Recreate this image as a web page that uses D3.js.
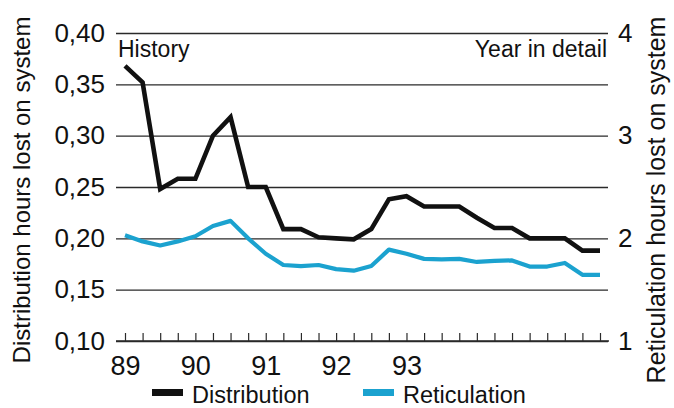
<!DOCTYPE html>
<html><head><meta charset="utf-8">
<script src="https://cdn.jsdelivr.net/npm/d3@7"></script>
<style>
html,body{margin:0;padding:0;background:#fff;}
svg{display:block;font-family:"Liberation Sans",Arial,Helvetica,sans-serif;}
</style></head>
<body>
<svg id="chart" width="674" height="408"></svg>
<script>
// ---- data ----
const periods = [
  "89Q1","89Q2","89Q3","89Q4","90Q1","90Q2","90Q3","90Q4",
  "91Q1","91Q2","91Q3","91Q4","92Q1","92Q2","92Q3","92Q4",
  "93-01","93-02","93-03","93-04","93-05","93-06","93-07","93-08","93-09","93-10","93-11","93-12"
];
const yearLabels = ["89","","","","90","","","","91","","","","92","","","","93","","","","","","","","","","",""];
// Distribution hours lost on system (left axis)
const distribution = [0.368,0.352,0.248,0.258,0.258,0.300,0.318,0.250,0.250,0.209,0.209,0.201,0.200,0.199,0.209,0.238,0.241,0.231,0.231,0.231,0.220,0.210,0.210,0.200,0.200,0.200,0.188,0.188];
// Reticulation hours lost on system (right axis)
const reticulation = [2.03,1.97,1.93,1.97,2.02,2.12,2.17,2.00,1.85,1.74,1.73,1.74,1.70,1.685,1.73,1.89,1.85,1.80,1.795,1.80,1.77,1.78,1.785,1.725,1.725,1.76,1.645,1.645];
const leftTicks = [0.10,0.15,0.20,0.25,0.30,0.35,0.40];
const rightTicks = [1,2,3,4];
const seriesNames = ["Distribution","Reticulation"];
const seriesColors = ["#111111","#1ba2cf"];

// ---- layout ----
const svg = d3.select("#chart");
const plotL = 116, plotR = 608, plotT = 33, plotB = 341;

const x = d3.scalePoint().domain(periods).range([125, 600]);
const yL = d3.scaleLinear().domain([0.10, 0.40]).range([plotB, plotT]);
const yR = d3.scaleLinear().domain([1, 4]).range([plotB, plotT]);

// gridlines + left labels
const gl = svg.append("g").attr("transform", `translate(${plotL},0)`)
  .call(d3.axisLeft(yL).tickValues(leftTicks)
    .tickFormat(d => d3.format(".2f")(d).replace(".", ","))
    .tickSizeInner(-(plotR - plotL)).tickSizeOuter(0).tickPadding(11));
gl.select(".domain").remove();
gl.selectAll(".tick line").attr("stroke", "#2a2a2a").attr("stroke-width", 1.3);
gl.selectAll(".tick text").attr("fill", "#111").style("font-size", "26px")
  .style("font-family", "Liberation Sans, Arial, sans-serif");

// right labels
const gr = svg.append("g").attr("transform", `translate(${plotR},0)`)
  .call(d3.axisRight(yR).tickValues(rightTicks).tickFormat(d3.format("d"))
    .tickSize(0).tickPadding(10));
gr.select(".domain").remove();
gr.selectAll(".tick text").attr("fill", "#111").style("font-size", "26px")
  .style("font-family", "Liberation Sans, Arial, sans-serif");

// bottom axis
const gb = svg.append("g").attr("transform", `translate(0,${plotB})`)
  .call(d3.axisBottom(x).tickFormat((d, i) => yearLabels[i])
    .tickSizeInner(-8).tickSizeOuter(0).tickPadding(15));
gb.select(".domain").attr("d", `M${plotL},0H${plotR + 1}`).attr("stroke", "#2a2a2a").attr("stroke-width", 1.5);
gb.selectAll(".tick line").attr("stroke", "#2a2a2a").attr("stroke-width", 1.2);
gb.selectAll(".tick text").attr("fill", "#111").style("font-size", "27px")
  .style("font-family", "Liberation Sans, Arial, sans-serif");

// lines
const lineD = d3.line().x((d, i) => x(periods[i])).y(d => yL(d));
const lineR = d3.line().x((d, i) => x(periods[i])).y(d => yR(d));
svg.append("path").datum(reticulation).attr("d", lineR)
  .attr("fill", "none").attr("stroke", seriesColors[1]).attr("stroke-width", 4.2)
  .attr("stroke-linejoin", "round");
svg.append("path").datum(distribution).attr("d", lineD)
  .attr("fill", "none").attr("stroke", seriesColors[0]).attr("stroke-width", 4.6)
  .attr("stroke-linejoin", "miter");

// annotations
svg.append("text").attr("x", 118).attr("y", 57).text("History")
  .attr("fill", "#111").style("font-size", "23px");
svg.append("text").attr("x", 607).attr("y", 57).attr("text-anchor", "end").text("Year in detail")
  .attr("fill", "#111").style("font-size", "23px");

// axis titles
svg.append("text").attr("transform", "translate(30,190) rotate(-90)").attr("text-anchor", "middle")
  .text("Distribution hours lost on system").attr("fill", "#111").style("font-size", "24px");
svg.append("text").attr("transform", "translate(665,200) rotate(-90)").attr("text-anchor", "middle")
  .text("Reticulation hours lost on system").attr("fill", "#111").style("font-size", "25px");

// legend
const legX = [152, 363];
seriesNames.forEach((name, i) => {
  svg.append("rect").attr("x", legX[i]).attr("y", 389).attr("width", 31).attr("height", 7)
    .attr("fill", seriesColors[i]);
  svg.append("text").attr("x", legX[i] + 40).attr("y", 403).text(name)
    .attr("fill", "#111").style("font-size", "23.5px");
});
</script>
</body></html>
